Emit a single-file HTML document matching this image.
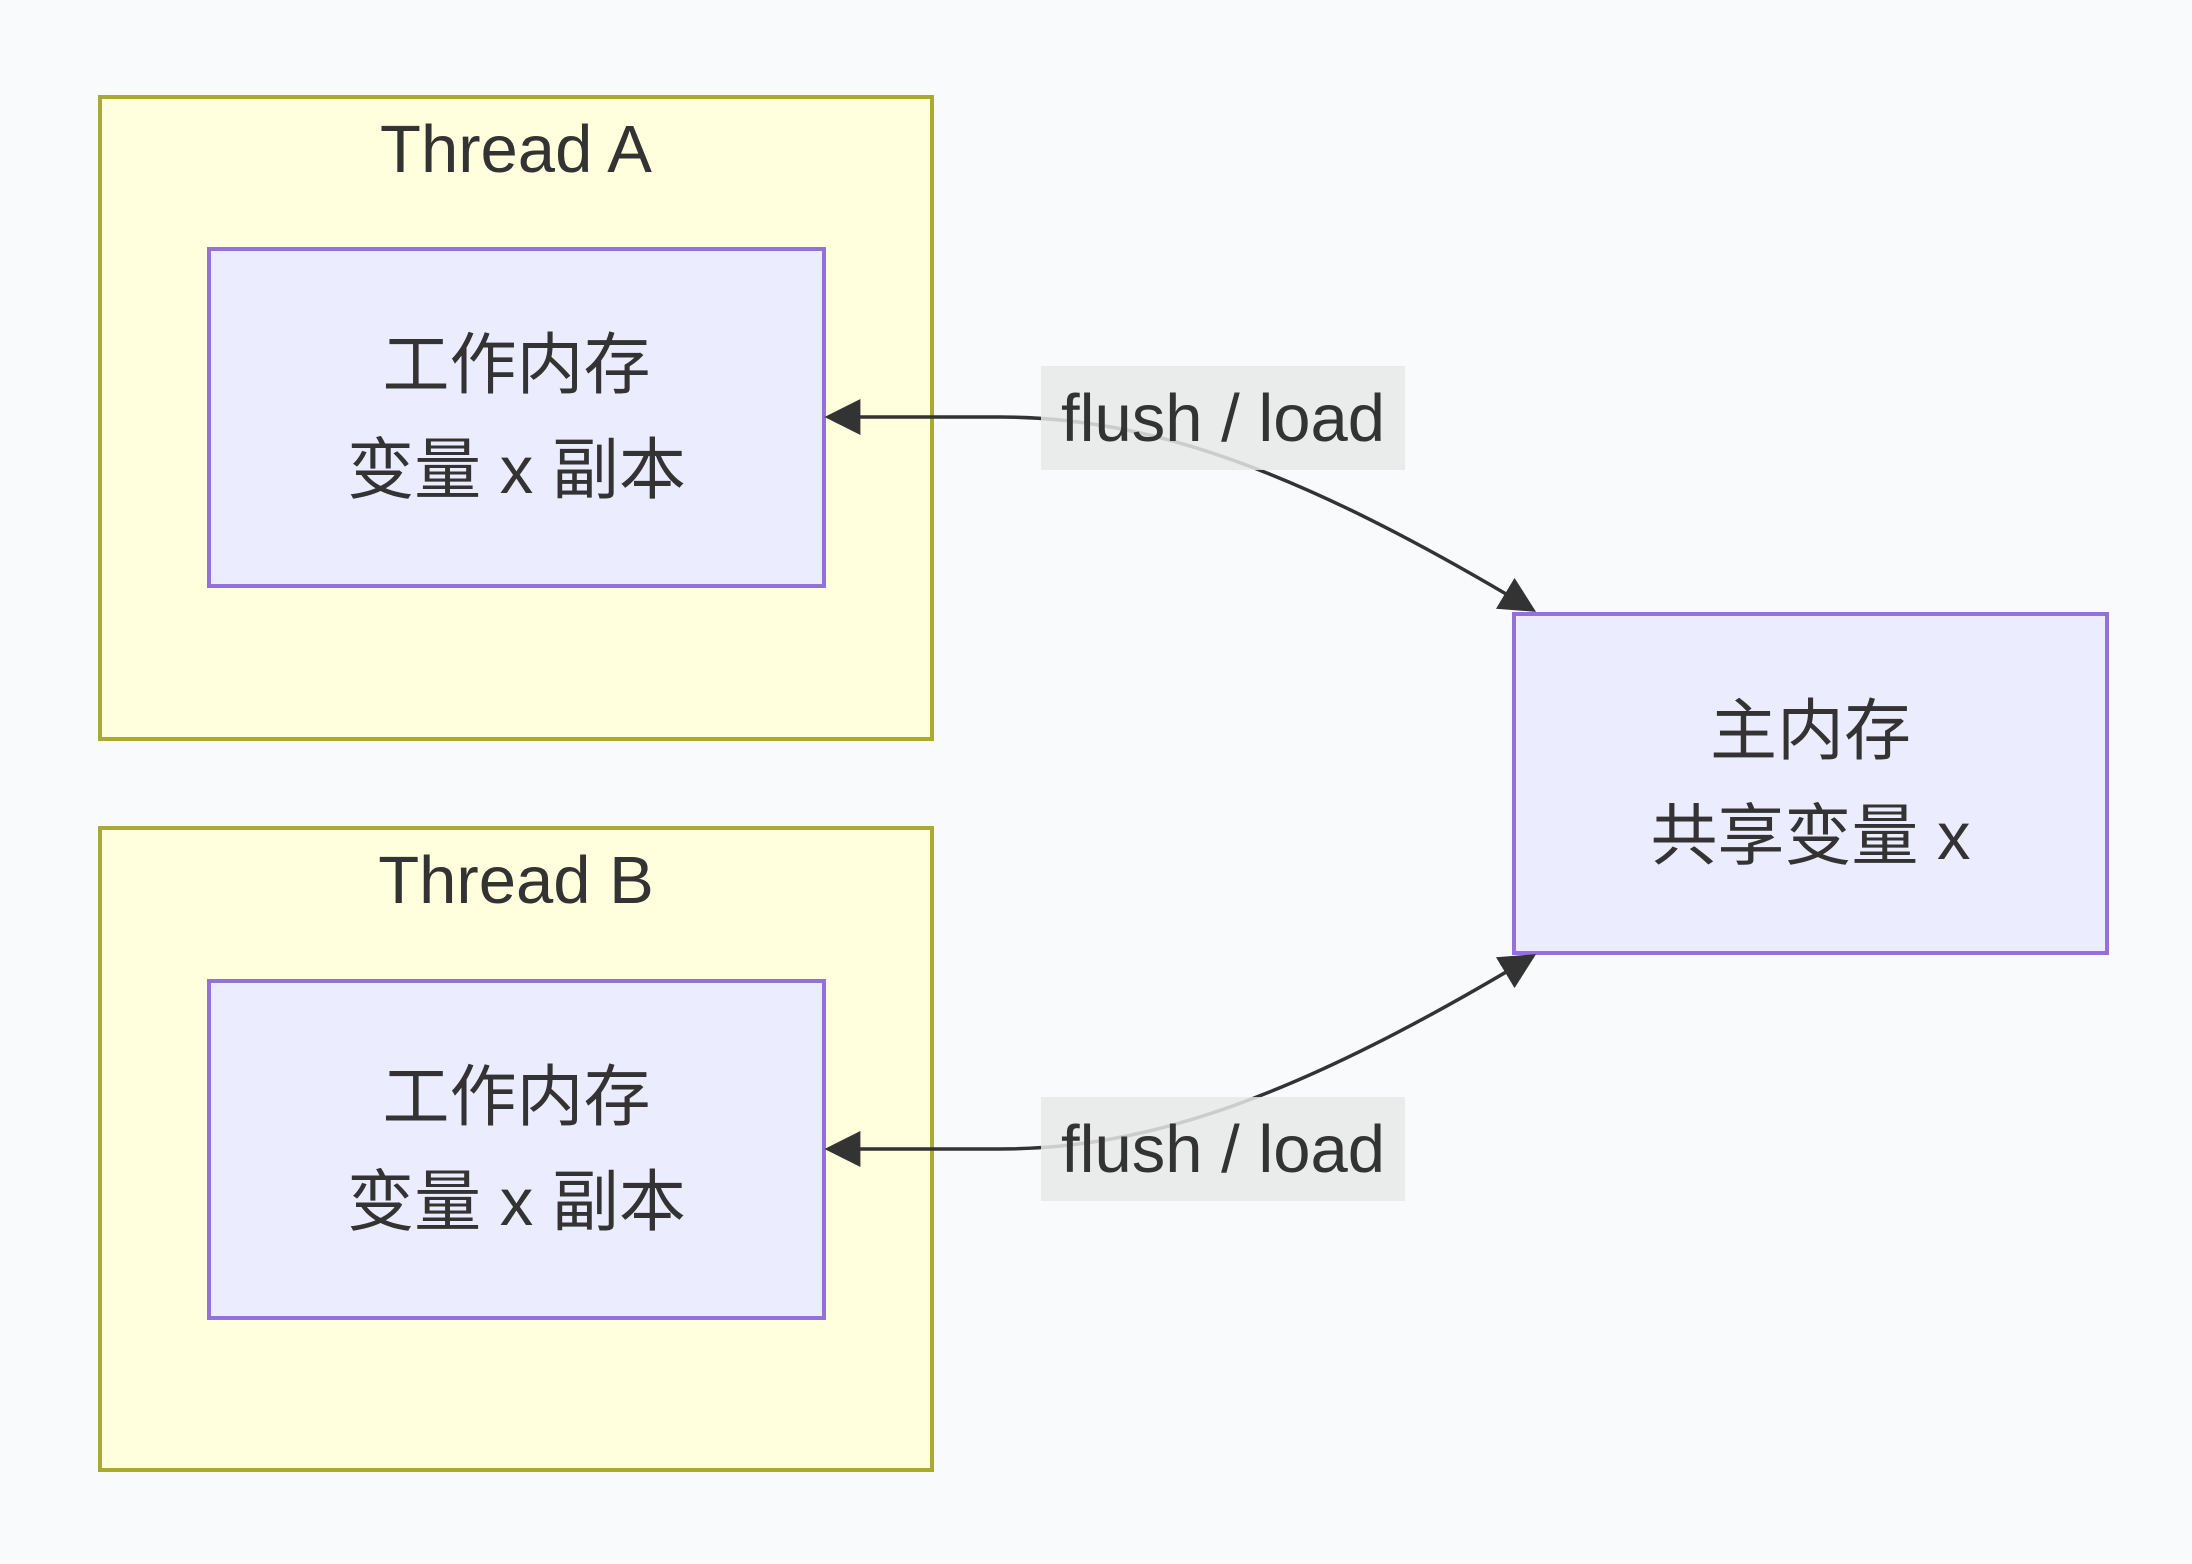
<!DOCTYPE html>
<html><head><meta charset="utf-8">
<style>
html,body{margin:0;padding:0;}
body{width:2192px;height:1564px;background:#f9fafc;position:relative;overflow:hidden;font-family:"Liberation Sans","Noto Sans CJK SC",sans-serif;color:#333;}
.abs{position:absolute;box-sizing:border-box;}
.grp{background:#ffffde;border:4px solid #aaaa33;}
.node{background:#ececff;border:4px solid #9370db;display:flex;flex-direction:column;align-items:center;justify-content:center;font-size:67px;line-height:105px;}
.title{position:absolute;left:0;right:0;text-align:center;font-size:67px;}
.lbl{background:rgba(232,232,232,0.85);font-size:67px;display:flex;align-items:center;justify-content:center;}
</style></head><body>
<div class="abs grp" style="left:98px;top:95px;width:836px;height:646px;"><div class="title" style="top:12px;">Thread A</div></div>
<div class="abs grp" style="left:98px;top:826px;width:836px;height:646px;"><div class="title" style="top:12px;">Thread B</div></div>
<div class="abs node" style="left:207px;top:247px;width:619px;height:341px;"><div>工作内存</div><div>变量 x 副本</div></div>
<div class="abs node" style="left:207px;top:979px;width:619px;height:341px;"><div>工作内存</div><div>变量 x 副本</div></div>
<div class="abs node" style="left:1512px;top:612px;width:597px;height:343px;"><div>主内存</div><div>共享变量 x</div></div>
<svg class="abs" style="left:0;top:0" width="2192" height="1564">
<defs>
<marker id="a" viewBox="0 0 10 10" refX="9" refY="5" markerWidth="36" markerHeight="36" markerUnits="userSpaceOnUse" orient="auto-start-reverse"><path d="M0,0L10,5L0,10z" fill="#333"/></marker></defs>
<path d="M828,417 L1000,417 C1150,417 1300,470 1533,610" fill="none" stroke="#333" stroke-width="3.5" marker-start="url(#a)" marker-end="url(#a)"/>
<path d="M828,1149 L1000,1149 C1150,1149 1300,1096 1533,956" fill="none" stroke="#333" stroke-width="3.5" marker-start="url(#a)" marker-end="url(#a)"/>
</svg>
<div class="abs lbl" style="left:1041px;top:366px;width:364px;height:104px;">flush / load</div>
<div class="abs lbl" style="left:1041px;top:1097px;width:364px;height:104px;">flush / load</div>
</body></html>
